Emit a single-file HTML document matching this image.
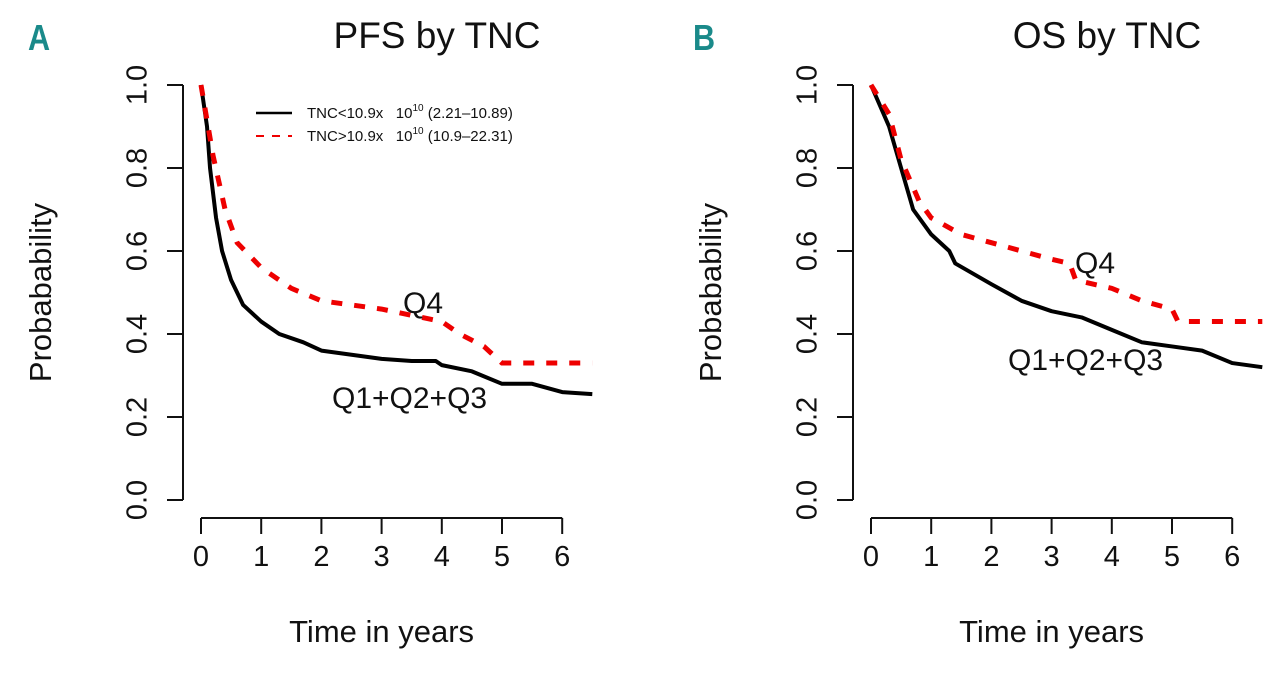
<!DOCTYPE html>
<html><head><meta charset="utf-8"><style>
body{margin:0;background:#fff;width:1280px;height:671px;overflow:hidden}
svg text{font-family:"Liberation Sans",sans-serif;fill:#111}
</style></head><body>
<svg id="chart" width="1280" height="671">
<text x="28" y="50" font-size="36" font-weight="bold" style="fill:#1a8a8a" transform="scale(0.85 1)" transform-origin="28 50">A</text>
<text x="693" y="50" font-size="36" font-weight="bold" style="fill:#1a8a8a" transform="scale(0.85 1)" transform-origin="693 50">B</text>
</svg>
<script>
const xTicks=[0,1,2,3,4,5,6];
const yTicks=[0.0,0.2,0.4,0.6,0.8,1.0];
const pfsLowT=[0,0.1,0.15,0.25,0.35,0.5,0.7,1,1.3,1.7,2,2.5,3,3.5,3.9,4,4.5,5,5.5,6,6.5];
const pfsLowS=[1,0.9,0.8,0.68,0.6,0.53,0.47,0.43,0.40,0.38,0.36,0.35,0.34,0.335,0.335,0.325,0.31,0.28,0.28,0.26,0.255];
const pfsHighT=[0,0.2,0.4,0.6,1,1.5,2,2.5,3,3.5,4,4.3,4.7,5,6.5];
const pfsHighS=[1,0.83,0.7,0.62,0.56,0.51,0.48,0.47,0.46,0.445,0.43,0.4,0.37,0.33,0.33];
const osLowT=[0,0.3,0.5,0.7,1,1.3,1.4,2,2.5,3,3.5,4,4.5,5,5.5,6,6.5];
const osLowS=[1,0.9,0.8,0.7,0.64,0.6,0.57,0.52,0.48,0.455,0.44,0.41,0.38,0.37,0.36,0.33,0.32];
const osHighT=[0,0.3,0.5,0.8,1,1.5,2,2.5,3,3.3,3.4,4,4.5,5,5.1,6.5];
const osHighS=[1,0.93,0.82,0.72,0.68,0.64,0.62,0.6,0.58,0.57,0.53,0.51,0.48,0.46,0.43,0.43];
const NS="http://www.w3.org/2000/svg";
const svg=document.getElementById('chart');
function mk(tag,attrs,parent){const e=document.createElementNS(NS,tag);for(const k in attrs)e.setAttribute(k,attrs[k]);(parent||svg).appendChild(e);return e;}
function panel(id,ox,title,lowT,lowS,highT,highS,q4,q123,legend){
  const g=mk('g',{});
  
  
  const x0=ox+18, xs=60.2, yb=500, ys=415;
  const X=t=>x0+t*xs, Y=s=>yb-s*ys;
  const t=mk('text',{x:ox+254,y:48,'font-size':37,'text-anchor':'middle'},g);t.textContent=title;
  
  const ya=mk('line',{x1:ox,x2:ox,y1:Y(1),y2:Y(0),stroke:'#111','stroke-width':2},g);
  
  yTicks.forEach(v=>{
    const l=mk('line',{x1:ox-16,x2:ox,y1:Y(v),y2:Y(v),stroke:'#111','stroke-width':2},g);
    
    const tx=mk('text',{x:ox-44,y:Y(v),'font-size':29,'text-anchor':'middle',transform:`rotate(-90 ${ox-44} ${Y(v)})`,'dominant-baseline':'middle'},g);
    tx.textContent=v.toFixed(1);
    
  });
  const xa=mk('line',{x1:X(0),x2:X(6),y1:518,y2:518,stroke:'#111','stroke-width':2},g);
  
  xTicks.forEach(v=>{
    const l=mk('line',{x1:X(v),x2:X(v),y1:518,y2:534,stroke:'#111','stroke-width':2},g);
    
    const tx=mk('text',{x:X(v),y:566,'font-size':29,'text-anchor':'middle'},g);tx.textContent=v;
    
  });
  const xl=mk('text',{x:X(3),y:642,'font-size':31,'text-anchor':'middle'},g);xl.textContent='Time in years';
  
  const yx=ox-140, yy=Y(0.5);
  const yl=mk('text',{x:yx,y:yy,'font-size':31,'text-anchor':'middle',transform:`rotate(-90 ${yx} ${yy})`,'dominant-baseline':'middle'},g);yl.textContent='Probabability';
  
  function line(T,S){let d=`M${X(T[0])},${Y(S[0])}`;for(let i=1;i<T.length;i++){d+=`L${X(T[i])},${Y(S[i])}`;}return d;}
  const pl=mk('path',{d:line(lowT,lowS),fill:'none',stroke:'#000','stroke-width':4,'stroke-linejoin':'round'},g);
  
  const ph=mk('path',{d:line(highT,highS),fill:'none',stroke:'#e00','stroke-width':5,'stroke-dasharray':'11 12'},g);
  
  const a=mk('text',{x:q4[0],y:q4[1],'font-size':30},g);a.textContent='Q4';
  
  const b=mk('text',{x:q123[0],y:q123[1],'font-size':30},g);b.textContent='Q1+Q2+Q3';
  
  if(legend){
    const lg=mk('g',{},g);
    mk('line',{x1:256,x2:292,y1:113,y2:113,stroke:'#000','stroke-width':2.5},lg);
    mk('line',{x1:256,x2:292,y1:136,y2:136,stroke:'#e00','stroke-width':2,'stroke-dasharray':'8 8'},lg);
    const l1=mk('text',{x:307,y:118,'font-size':15},lg);l1.innerHTML='TNC&lt;10.9x&#160;&#160;&#160;10<tspan dy="-7" font-size="10">10</tspan><tspan dy="7"> (2.21–10.89)</tspan>';
    
    const l2=mk('text',{x:307,y:141,'font-size':15},lg);l2.innerHTML='TNC&gt;10.9x&#160;&#160;&#160;10<tspan dy="-7" font-size="10">10</tspan><tspan dy="7"> (10.9–22.31)</tspan>';
    
  }
}
panel('pfs',183,'PFS by TNC',pfsLowT,pfsLowS,pfsHighT,pfsHighS,[403,313],[332,408],true);
panel('os',853,'OS by TNC',osLowT,osLowS,osHighT,osHighS,[1075,273],[1008,370],false);
</script>
</body></html>
